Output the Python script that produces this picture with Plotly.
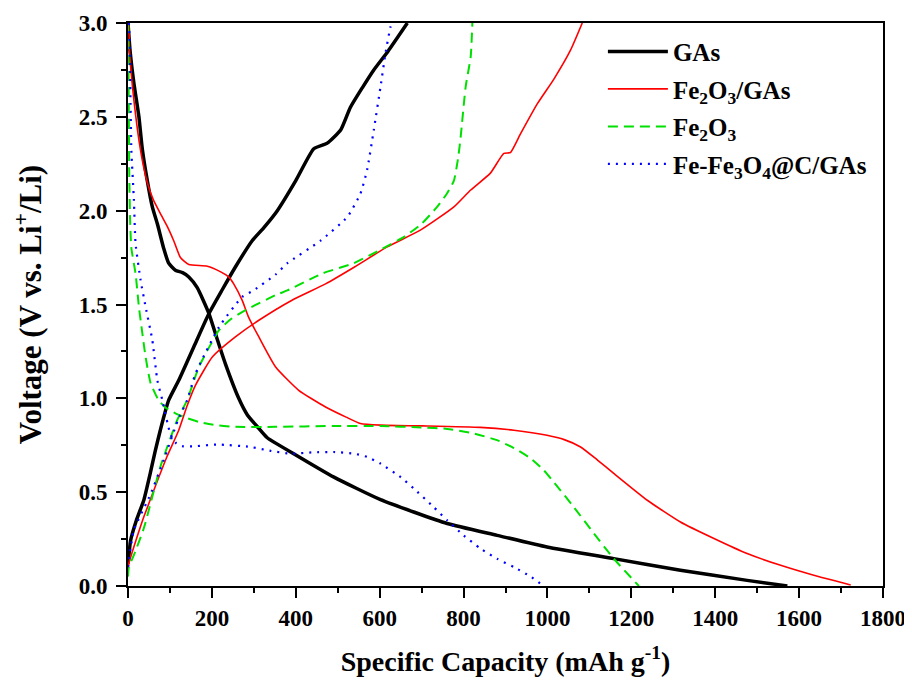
import plotly.graph_objects as go

# ---------------- data (capacity mAh/g, voltage V) ----------------
gas_dis_x = [0, 5, 14, 26, 34, 46, 58, 70, 85, 97, 113, 130, 145, 165, 193, 212, 232, 264, 285, 308, 332, 395, 491, 602, 761, 880, 999, 1158, 1317, 1476, 1572]
gas_dis_y = [3.0, 2.85, 2.68, 2.5, 2.33, 2.16, 2.02, 1.93, 1.80, 1.72, 1.683, 1.67, 1.647, 1.59, 1.452, 1.32, 1.185, 1.0, 0.91, 0.85, 0.79, 0.705, 0.58, 0.46, 0.333, 0.27, 0.208, 0.146, 0.084, 0.03, 0.0]
gas_chg_x = [0, 2, 6, 20, 38, 53, 65, 77, 97, 121, 160, 193, 225, 256, 296, 324, 356, 400, 443, 475, 507, 530, 560, 586, 620, 666]
gas_chg_y = [0.12, 0.16, 0.24, 0.35, 0.46, 0.6, 0.72, 0.83, 0.99, 1.096, 1.29, 1.452, 1.58, 1.70, 1.84, 1.91, 2.0, 2.16, 2.33, 2.36, 2.43, 2.55, 2.66, 2.75, 2.85, 3.0]

fg_dis_x = [2, 4, 14, 30, 46, 60, 77, 95, 109, 125, 145, 189, 221, 240, 252, 272, 288, 312, 352, 407, 471, 520, 554, 602, 700, 840, 920, 999, 1040, 1079, 1120, 1158, 1238, 1317, 1397, 1476, 1556, 1635, 1723]
fg_dis_y = [3.0, 2.84, 2.59, 2.32, 2.15, 2.06, 1.985, 1.91, 1.84, 1.75, 1.713, 1.704, 1.674, 1.647, 1.61, 1.523, 1.43, 1.327, 1.167, 1.043, 0.954, 0.9, 0.866, 0.857, 0.853, 0.845, 0.83, 0.803, 0.78, 0.741, 0.67, 0.6, 0.457, 0.341, 0.253, 0.173, 0.11, 0.057, 0.005]
fg_chg_x = [0, 2, 20, 38, 65, 93, 121, 141, 161, 201, 256, 312, 391, 471, 540, 618, 697, 777, 817, 864, 896, 912, 936, 976, 1015, 1055, 1083]
fg_chg_y = [0.08, 0.12, 0.25, 0.37, 0.53, 0.69, 0.83, 0.96, 1.07, 1.22, 1.327, 1.416, 1.523, 1.61, 1.70, 1.807, 1.896, 2.02, 2.11, 2.2, 2.305, 2.31, 2.41, 2.57, 2.70, 2.855, 3.0]

fe_dis_x = [0, 1, 2, 3, 5, 8, 18, 26, 34, 42, 54, 73, 90, 113, 140, 169, 200, 256, 350, 491, 602, 700, 761, 820, 880, 920, 960, 990, 1015, 1063, 1111, 1158, 1218]
fe_dis_y = [3.0, 2.8, 2.5, 2.2, 1.95, 1.8, 1.665, 1.487, 1.35, 1.22, 1.08, 0.99, 0.95, 0.92, 0.895, 0.874, 0.86, 0.848, 0.848, 0.853, 0.852, 0.845, 0.837, 0.815, 0.777, 0.735, 0.68, 0.62, 0.554, 0.42, 0.279, 0.146, 0.0]
fe_chg_x = [0, 2, 15, 38, 77, 117, 141, 169, 217, 244, 280, 352, 380, 463, 538, 600, 658, 700, 737, 760, 777, 787, 793, 805, 817, 821]
fe_chg_y = [0.05, 0.1, 0.17, 0.31, 0.634, 0.883, 0.99, 1.167, 1.363, 1.42, 1.47, 1.55, 1.575, 1.665, 1.72, 1.79, 1.86, 1.93, 2.02, 2.09, 2.16, 2.28, 2.39, 2.66, 2.82, 3.0]

ffc_dis_x = [2, 4, 6, 8, 14, 18, 30, 42, 58, 70, 82, 101, 115, 129, 160, 213, 292, 340, 387, 440, 491, 540, 570, 602, 650, 681, 729, 761, 800, 840, 880, 920, 960, 991]
ffc_dis_y = [3.0, 2.9, 2.6, 2.32, 2.06, 1.825, 1.63, 1.487, 1.31, 1.096, 0.99, 0.81, 0.76, 0.745, 0.745, 0.754, 0.741, 0.72, 0.705, 0.712, 0.714, 0.705, 0.688, 0.652, 0.58, 0.52, 0.42, 0.35, 0.27, 0.2, 0.145, 0.101, 0.05, 0.0]
ffc_chg_x = [0, 14, 54, 85, 119, 141, 161, 217, 272, 300, 352, 380, 459, 523, 554, 570, 586, 602, 614, 626, 630]
ffc_chg_y = [0.1, 0.297, 0.49, 0.67, 0.883, 0.99, 1.132, 1.38, 1.54, 1.576, 1.66, 1.72, 1.84, 1.967, 2.09, 2.216, 2.43, 2.66, 2.84, 2.98, 3.0]

series_names = ["GAs", "Fe<sub>2</sub>O<sub>3</sub>/GAs", "Fe<sub>2</sub>O<sub>3</sub>", "Fe-Fe<sub>3</sub>O<sub>4</sub>@C/GAs"]
x_ticks = [0, 200, 400, 600, 800, 1000, 1200, 1400, 1600, 1800]
y_ticks = [0.0, 0.5, 1.0, 1.5, 2.0, 2.5, 3.0]

FONT = "Liberation Serif"

styles = [
    dict(color="black", width=3.5, dash="solid"),
    dict(color="#ff0000", width=1.6, dash="solid"),
    dict(color="#00e000", width=2, dash="10px,6px"),
    dict(color="#0000ff", width=2.2, dash="2px,6px"),
]
curves = [
    (gas_dis_x, gas_dis_y, gas_chg_x, gas_chg_y),
    (fg_dis_x, fg_dis_y, fg_chg_x, fg_chg_y),
    (fe_dis_x, fe_dis_y, fe_chg_x, fe_chg_y),
    (ffc_dis_x, ffc_dis_y, ffc_chg_x, ffc_chg_y),
]

fig = go.Figure()
for i, (dx, dy, cx, cy) in enumerate(curves):
    for j, (xx, yy) in enumerate([(dx, dy), (cx, cy)]):
        fig.add_trace(go.Scatter(
            x=xx, y=yy, mode="lines", name=series_names[i],
            legendgroup=f"g{i}", showlegend=(j == 0),
            line=dict(shape="spline", smoothing=0.5, **styles[i]),
        ))

axis_common = dict(
    showline=True, linecolor="black", linewidth=2, mirror=True,
    ticks="outside", ticklen=10, tickwidth=2, tickcolor="black",
    showgrid=False, zeroline=False, automargin=False,
    tickfont=dict(family=FONT, size=23, color="black", weight="bold"),
)

# the page body adds an 8px offset, so the figure is sized to fit inside the window
fig.update_layout(
    width=904, height=669,
    margin=dict(l=120, r=29, t=15, b=91),
    paper_bgcolor="white", plot_bgcolor="white",
    font=dict(family=FONT, color="black", weight="bold"),
    xaxis=dict(
        range=[0, 1800], tickvals=x_ticks,
        minor=dict(ticks="outside", ticklen=5, tickwidth=2, dtick=100, tickcolor="black", showgrid=False),
        title=dict(text="Specific Capacity (mAh g<sup>-1</sup>)",
                   font=dict(family=FONT, size=28, color="black", weight="bold"), standoff=22),
        **axis_common,
    ),
    yaxis=dict(
        range=[0, 3.0], tickvals=y_ticks, ticktext=[f"{v:.1f}" for v in y_ticks],
        ticklabelstandoff=4,
        minor=dict(ticks="outside", ticklen=5, tickwidth=2, dtick=0.25, tickcolor="black", showgrid=False),
        title=dict(text="Voltage (V vs. Li<sup>+</sup>/Li)",
                   font=dict(family=FONT, size=31, color="black", weight="bold"), standoff=28),
        **axis_common,
    ),
    legend=dict(
        x=0.629, y=0.99, xanchor="left", yanchor="top",
        bgcolor="rgba(0,0,0,0)", borderwidth=0,
        font=dict(family=FONT, size=25, color="black", weight="bold"),
        itemwidth=60, tracegroupgap=2,
    ),
)

fig.write_html("out.html")
